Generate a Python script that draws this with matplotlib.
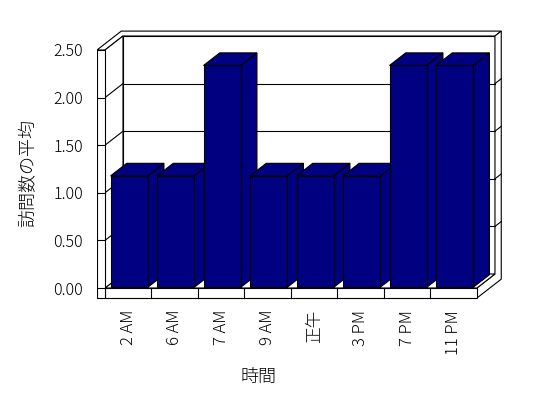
import matplotlib.pyplot as plt
from matplotlib.patches import Polygon

plt.rcParams['font.family'] = ['Noto Sans CJK JP', 'DejaVu Sans']
plt.rcParams['font.weight'] = 'light'

categories = ['2 AM', '6 AM', '7 AM', '9 AM', '正午', '3 PM', '7 PM', '11 PM']
visits = [1.17, 1.17, 2.33, 1.17, 1.17, 1.17, 2.33, 2.33]
yticks = [0.0, 0.5, 1.0, 1.5, 2.0, 2.5]
ytick_labels = [f'{v:.2f}' for v in yticks]

# pseudo-3D look (data units): shift from front plane to back wall
DX, DY = 0.387, 0.147
WALL = 0.172     # left wall thickness
SLAB = 0.105     # floor thickness
BACK = 1.35      # outer face of back wall
NAVY = '#000080'
YMAX = yticks[-1]
N = len(categories)


def p(x, y, z):
    return (x + z * DX, y + z * DY)


def face(ax, pts, fc='white', zo=1):
    ax.add_patch(Polygon([p(*q) for q in pts], closed=True, fc=fc,
                         ec='black', lw=0.8, zorder=zo))


def seg(ax, a, b, zo=1.5):
    (x0, y0), (x1, y1) = p(*a), p(*b)
    ax.plot([x0, x1], [y0, y1], color='black', lw=0.8, zorder=zo)


fig = plt.figure(figsize=(5.48, 3.98), dpi=100)
ax = fig.add_axes([0.177, 0.2405, 0.7443, 0.6937])
ax.set_xlim(-WALL, 8.6)
ax.set_ylim(-0.15, 2.75)

# walls and floor
face(ax, [(0, 0, 1), (N, 0, 1), (N, YMAX, 1), (0, YMAX, 1)])
face(ax, [(-WALL, YMAX, 0), (0, YMAX, 0), (0, YMAX, 1), (N, YMAX, 1),
          (N, YMAX, BACK), (-WALL, YMAX, BACK)])
face(ax, [(N, -SLAB, 0), (N, 0, 0), (N, 0, 1), (N, YMAX, 1),
          (N, YMAX, BACK), (N, -SLAB, BACK)])
face(ax, [(0, 0, 0), (N, 0, 0), (N, 0, 1), (0, 0, 1)])
face(ax, [(0, 0, 0), (0, 0, 1), (0, YMAX, 1), (0, YMAX, 0)])

for v in yticks[1:-1]:
    seg(ax, (0, v, 1), (N, v, 1))
    seg(ax, (0, v, 0), (0, v, 1))
    seg(ax, (N, v, 1), (N, v, BACK))

# bars
for i, v in enumerate(visits):
    x0, x1 = i + 0.1, i + 0.9
    z0, z1 = 0.05, 0.95
    zo = 3 + i
    face(ax, [(x1, 0, z0), (x1, 0, z1), (x1, v, z1), (x1, v, z0)], NAVY, zo)
    face(ax, [(x0, v, z0), (x1, v, z0), (x1, v, z1), (x0, v, z1)], NAVY, zo)
    face(ax, [(x0, 0, z0), (x1, 0, z0), (x1, v, z0), (x0, v, z0)], NAVY, zo)

# front edges of the floor and left wall
face(ax, [(0, -SLAB, 0), (N, -SLAB, 0), (N, 0, 0), (0, 0, 0)], zo=20)
face(ax, [(-WALL, -SLAB, 0), (0, -SLAB, 0), (0, YMAX, 0), (-WALL, YMAX, 0)], zo=20)
for i in range(1, N):
    seg(ax, (i, -SLAB, 0), (i, 0, 0), zo=21)
for v in yticks[:-1]:
    seg(ax, (-WALL, v, 0), (0, v, 0), zo=21)

ax.set_yticks(yticks)
ax.set_yticklabels(ytick_labels, fontsize=11.5)
ax.set_xticks([i + 0.5 for i in range(N)])
ax.set_xticklabels(categories, rotation=90, fontsize=12)
ax.tick_params(axis='y', length=0, pad=10)
ax.tick_params(axis='x', length=0, pad=5.5)
for s in ax.spines.values():
    s.set_visible(False)

fig.text(258 / 548, 1 - 377 / 398, '時間', ha='center', va='center', fontsize=13)
fig.text(28 / 548, 1 - 173 / 398, '訪問数の平均', ha='center', va='center',
         rotation=90, fontsize=13)

fig.savefig('out.png', dpi=100)
